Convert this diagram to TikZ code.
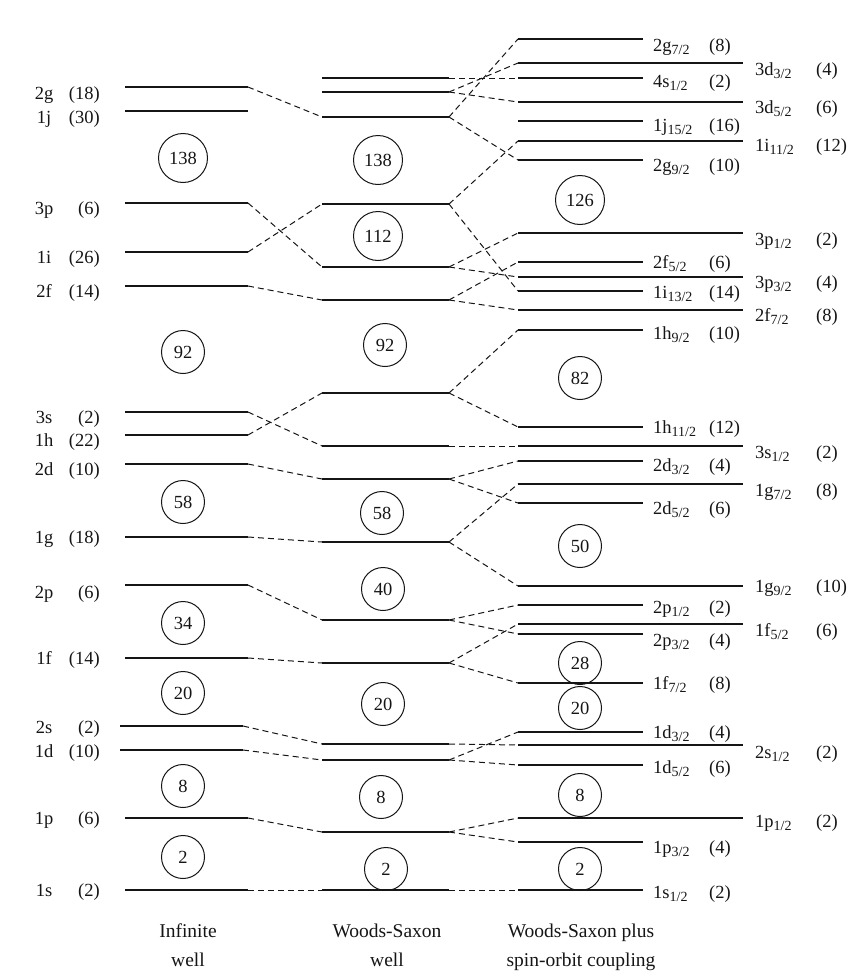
\documentclass[tikz,border=0pt]{standalone}
\usepackage{fontspec}
\setmainfont{Liberation Serif}
\usetikzlibrary{positioning}
\definecolor{Ink}{HTML}{151515}
\newcommand\lvlfont{\fontsize{18.5}{29}\selectfont}
\newcommand\ttlfont{\fontsize{19.5}{29}\selectfont}
\newcommand\jsub[1]{\raisebox{-3.5pt}{\fontsize{14}{14}\selectfont#1}}
\tikzset{
  lvlbase/.style={rectangle,inner sep=0pt,outer sep=0pt,minimum height=0pt},
  iwlvl/.style={lvlbase,minimum width=123pt},
  wslvl/.style={lvlbase,minimum width=127pt},
  soshort/.style={lvlbase,minimum width=125pt},
  solong/.style={lvlbase,minimum width=225pt},
  level/.style={draw=Ink,line width=2.1pt},
  conn/.style={draw=Ink,line width=1pt,dash pattern=on 6pt off 4pt},
  orb/.style={font=\lvlfont,text=Ink,inner sep=0pt},
  magic/.style={circle,draw=Ink,line width=1pt,minimum size=43pt,inner sep=1pt,font=\lvlfont,text=Ink},
  magicbig/.style={magic,minimum size=49pt},
  ttl/.style={font=\ttlfont,text=Ink,align=center,inner sep=0pt,anchor=north}
}

\begin{document}
\begin{tikzpicture}[x=1pt,y=-1pt]
\path[use as bounding box] (0,0) rectangle (848,972);

\foreach \o/\x/\y/\b/\d in {2g/186.5/87/12/18,1j/186.5/111/12/30,3p/186.5/203/11/6,1i/186.5/252/11/26,
    2f/186.5/286/11/14,3s/186.5/412/11/2,1h/186.5/435/11/22,2d/186.5/464/11/10,1g/186.5/537/6/18,
    2p/186.5/585/13/6,1f/186.5/658/6/14,2s/181.5/726/7/2,1d/181.5/750/7/10,1p/186.5/818/6/6,1s/186.5/890/6/2}{
  \node[iwlvl] (iw\o) at (\x,\y) {};
  \draw[level] (iw\o.west) -- (iw\o.east);
  \node[orb,anchor=base] (iw\o-n) at (44,\y+\b) {\o};
  \node[orb,anchor=base east] (iw\o-d) at (100,\y+\b) {(\d)};
}

\foreach \o/\y in {4s/78,3d/92,2g/117,1i/204,3p/267,2f/300,1h/393,3s/446,2d/479,1g/542,
    2p/620,1f/663,2s/744,1d/760,1p/832,1s/890}{
  \node[wslvl] (ws\o) at (385.5,\y) {};
  \draw[level] (ws\o.west) -- (ws\o.east);
}

\foreach \o/\j/\y/\b/\d in {2g/7/39/12/8,4s/1/78/9/2,1j/15/121/10/16,2g/9/160/11/10,2f/5/262/6/6,
    1i/13/291/7/14,1h/9/330/9/10,1h/11/427/6/12,2d/3/461/10/4,2d/5/503/11/6,2p/1/605/8/2,
    2p/3/634/12/4,1f/7/683/6/8,1d/3/732/6/4,1d/5/765/8/6,1p/3/842/11/4,1s/1/890/8/2}{
  \node[soshort] (so\o\j) at (580.5,\y) {};
  \draw[level] (so\o\j.west) -- (so\o\j.east);
  \node[orb,anchor=base west] (so\o\j-n) at (653,\y+\b) {\o\jsub{\j/2}};
  \node[orb,anchor=base west] (so\o\j-d) at (709,\y+\b) {(\d)};
}

\foreach \o/\j/\y/\b/\d in {3d/3/63/12/4,3d/5/102/11/6,1i/11/141/10/12,3p/1/233/12/2,3p/3/277/11/4,
    2f/7/310/11/8,3s/1/446/12/2,1g/7/484/12/8,1g/9/586/6/10,1f/5/624/12/6,2s/1/745/13/2,1p/1/818/9/2}{
  \node[solong] (so\o\j) at (630.5,\y) {};
  \draw[level] (so\o\j.west) -- (so\o\j.east);
  \node[orb,anchor=base west] (so\o\j-n) at (755,\y+\b) {\o\jsub{\j/2}};
  \node[orb,anchor=base west] (so\o\j-d) at (816,\y+\b) {(\d)};
}

\foreach \a in {2g,3p,1i,2f,3s,1h,2d,1g,2p,1f,2s,1d,1p,1s}
  \draw[conn] (iw\a.east) -- (ws\a.west);

\foreach \a/\b in {4s/4s1,3d/3d3,3d/3d5,2g/2g7,2g/2g9,1i/1i11,1i/1i13,3p/3p1,3p/3p3,2f/2f5,2f/2f7,
    1h/1h9,1h/1h11,3s/3s1,2d/2d3,2d/2d5,1g/1g7,1g/1g9,2p/2p1,2p/2p3,1f/1f5,1f/1f7,
    2s/2s1,1d/1d3,1d/1d5,1p/1p1,1p/1p3,1s/1s1}
  \draw[conn] (ws\a.east) -- (so\b.west);

\foreach \x/\y/\n [count=\i] in {183/158/138,378/160/138,378/236/112,580/200/126}
  \node[magicbig] (mb\i) at (\x,\y) {\n};
\foreach \x/\y/\n [count=\i] in {183/352/92,183/502/58,183/623/34,183/693/20,183/786/8,183/857/2,
    385/345/92,382/513/58,383/589/40,383/704/20,381/797/8,386/869/2,
    580/378/82,580/546/50,580/663/28,580/708/20,580/795/8,580/869/2}
  \node[magic] (mg\i) at (\x,\y) {\n};

\node[ttl] (tiw) at (188,924) {Infinite\\well};
\node[ttl] (tws) at (387,924) {Woods-Saxon\\well};
\node[ttl] (tso) at (581,924) {Woods-Saxon plus\\spin-orbit coupling};
\end{tikzpicture}
\end{document}
